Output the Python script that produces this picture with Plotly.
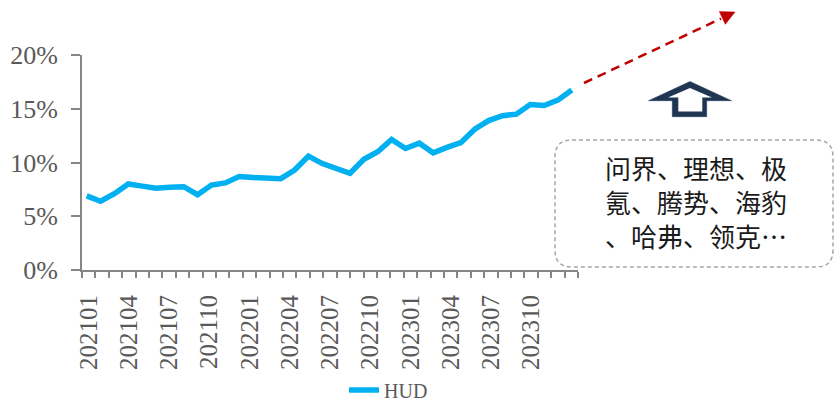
import plotly.graph_objects as go

# Monthly HUD penetration rate, Jan 2021 - Dec 2023
months = [f"{y}{m:02d}" for y in (2021, 2022, 2023) for m in range(1, 13)]
hud_rate = [6.9, 6.4, 7.1, 8.0, 7.8, 7.6, 7.7, 7.75, 7.0, 7.9, 8.1, 8.7,
            8.6, 8.55, 8.5, 9.3, 10.6, 9.9, 9.45, 9.0, 10.3, 11.0, 12.15, 11.3,
            11.8, 10.9, 11.4, 11.85, 13.1, 13.9, 14.35, 14.5, 15.4, 15.3, 15.8, 16.75]

# Category axis runs one month further (to 202401)
axis_months = months + ["202401"]
label_months = axis_months[::3]
tick_text = [m if m in label_months[:-1] else "" for m in axis_months]

y_ticks = [0, 0.05, 0.10, 0.15, 0.20]
y_labels = ["0%", "5%", "10%", "15%", "20%"]

brands = ["问界、理想、极", "氪、腾势、海豹", "、哈弗、领克…"]

W, H = 836, 404
L, R, T, B = 82, 578, 55, 270  # plot-area edges in pixels


def px(x):
    return (x - L) / (R - L)


def py(y):
    return (B - y) / (B - T)


def poly(points):
    return "M " + " L ".join(f"{px(x):.5f},{py(y):.5f}" for x, y in points) + " Z"


def rounded_rect(x0, y0, x1, y1, r):
    p = lambda x, y: f"{px(x):.5f},{py(y):.5f}"
    return (f"M {p(x0 + r, y0)} L {p(x1 - r, y0)} Q {p(x1, y0)} {p(x1, y0 + r)} "
            f"L {p(x1, y1 - r)} Q {p(x1, y1)} {p(x1 - r, y1)} "
            f"L {p(x0 + r, y1)} Q {p(x0, y1)} {p(x0, y1 - r)} "
            f"L {p(x0, y0 + r)} Q {p(x0, y0)} {p(x0 + r, y0)} Z")


fig = go.Figure()

# Invisible trace that fixes the category axis
fig.add_trace(go.Scatter(x=axis_months, y=[None] * len(axis_months), mode="lines",
                         showlegend=False, hoverinfo="skip"))

fig.add_trace(go.Scatter(
    x=months, y=[v / 100 for v in hud_rate], name="HUD", mode="lines",
    xaxis="x2",
    line=dict(color="#00B0F0", width=5.5, shape="linear"),
))

axis_color = "#868686"
serif = "Liberation Serif, Times New Roman, serif"

fig.update_layout(
    width=W, height=H,
    margin=dict(l=L, r=W - R, t=T, b=H - B, pad=0, autoexpand=False),
    paper_bgcolor="white", plot_bgcolor="white",
    xaxis=dict(
        type="category", range=[-0.5, len(axis_months) - 0.5],
        tickmode="array", tickvals=axis_months, ticktext=tick_text,
        tickson="boundaries", ticks="outside", ticklen=6, tickwidth=1.5, tickcolor=axis_color,
        tickangle=-90, tickfont=dict(family=serif, size=25, color="#595959"),
        ticklabelstandoff=13, automargin=False,
        showline=True, linecolor=axis_color, linewidth=1.8,
        showgrid=False, zeroline=False, fixedrange=True,
    ),
    xaxis2=dict(
        type="category", overlaying="x", range=[-0.339, 35.45],
        visible=False, showgrid=False,
    ),
    yaxis=dict(
        range=[0, 0.20], tickmode="array", tickvals=y_ticks, ticktext=y_labels,
        ticks="outside", ticklen=9, tickwidth=1.5, tickcolor=axis_color,
        tickfont=dict(family=serif, size=26, color="#595959"),
        ticklabelstandoff=8, automargin=False,
        showline=True, linecolor=axis_color, linewidth=1.8,
        showgrid=False, zeroline=False,
    ),
    legend=dict(
        orientation="h", x=px(344), y=py(390), xanchor="left", yanchor="middle",
        font=dict(family=serif, size=20, color="#595959"),
        bgcolor="rgba(0,0,0,0)", itemwidth=30,
        tracegroupgap=0,
    ),
    showlegend=True,
)

# Dashed red trend arrow
tip = (735, 12)
shapes = [
    dict(type="line", xref="paper", yref="paper",
         x0=px(584), y0=py(83), x1=px(721), y1=py(18.6),
         line=dict(color="#C00000", width=2.5, dash="9px,6px")),
    dict(type="path", xref="paper", yref="paper",
         path=poly([tip, (725.3, 24.3), (719.3, 11.6)]),
         fillcolor="#C00000", line=dict(color="#C00000", width=0.5)),
    # Hollow up arrow
    dict(type="path", xref="paper", yref="paper",
         path=poly([(690, 81.5), (731.5, 100.7), (706.7, 100.7), (706.7, 116.7),
                    (672.3, 116.7), (672.3, 100.7), (648.5, 100.7)]),
         fillcolor="#1F3552", line=dict(color="#1F3552", width=0.5)),
    dict(type="path", xref="paper", yref="paper",
         path=poly([(690, 88), (712, 97.5), (702.3, 97.5), (702.3, 111.5),
                    (678.3, 111.5), (678.3, 97.5), (668, 97.5)]),
         fillcolor="white", line=dict(color="white", width=0)),
    # Rounded dashed call-out box
    dict(type="path", xref="paper", yref="paper",
         path=rounded_rect(555, 140, 833, 267, 17),
         fillcolor="rgba(0,0,0,0)", line=dict(color="#A6A6A6", width=1.5, dash="4px,3px")),
]
fig.update_layout(shapes=shapes)

fig.add_annotation(
    text="<br>".join(brands), xref="paper", yref="paper", x=px(696), y=py(201),
    xanchor="center", yanchor="middle", align="center", showarrow=False,
    font=dict(family="Noto Sans CJK SC", size=26, color="#1a1a1a"),
)

fig.write_html("out.html")
